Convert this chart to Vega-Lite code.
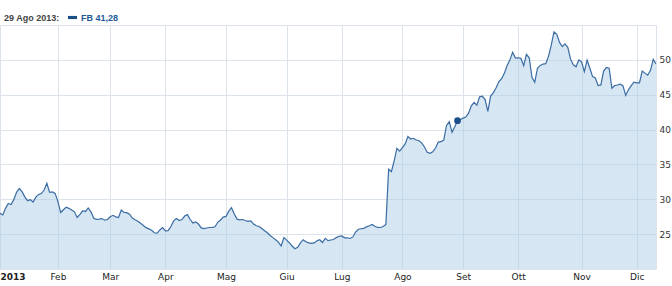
{
  "$schema": "https://vega.github.io/schema/vega-lite/v6.json",
  "width": 656,
  "height": 244,
  "autosize": {"type": "none"},
  "padding": {"left": 0, "top": 25, "right": 16, "bottom": 17},
  "background": "white",
  "config": {"view": {"stroke": "#dde3ea"}, "font": "DejaVu Sans"},
  "datasets": {
    "fb": [
      {"day":0,"close":28.0},{"day":1,"close":27.75},{"day":2,"close":28.7},{"day":3,"close":29.4},{"day":4,"close":29.25},
      {"day":5,"close":29.95},{"day":6,"close":31.0},{"day":7,"close":31.55},{"day":8,"close":31.1},{"day":9,"close":30.35},
      {"day":10,"close":29.8},{"day":11,"close":29.95},{"day":12,"close":29.6},{"day":13,"close":30.3},{"day":14,"close":30.7},
      {"day":15,"close":30.83},{"day":16,"close":31.33},{"day":17,"close":32.3},{"day":18,"close":31.0},{"day":19,"close":31.05},
      {"day":20,"close":30.85},{"day":21,"close":29.7},{"day":22,"close":28.1},{"day":23,"close":28.5},{"day":24,"close":28.85},
      {"day":25,"close":28.7},{"day":26,"close":28.47},{"day":27,"close":28.2},{"day":28,"close":27.4},{"day":29,"close":27.85},
      {"day":30,"close":28.35},{"day":31,"close":28.25},{"day":32,"close":28.75},{"day":33,"close":28.2},{"day":34,"close":27.27},
      {"day":35,"close":27.13},{"day":36,"close":27.16},{"day":37,"close":27.23},{"day":38,"close":27.0},{"day":39,"close":27.1},
      {"day":40,"close":27.5},{"day":41,"close":27.7},{"day":42,"close":27.48},{"day":43,"close":27.38},{"day":44,"close":28.45},
      {"day":45,"close":28.1},{"day":46,"close":28.08},{"day":47,"close":27.85},{"day":48,"close":27.3},{"day":49,"close":27.05},
      {"day":50,"close":26.85},{"day":51,"close":26.55},{"day":52,"close":26.25},{"day":53,"close":25.93},{"day":54,"close":25.75},
      {"day":55,"close":25.55},{"day":56,"close":25.2},{"day":57,"close":25.15},{"day":58,"close":25.6},{"day":59,"close":25.95},
      {"day":60,"close":25.47},{"day":61,"close":25.5},{"day":62,"close":26.1},{"day":63,"close":26.9},{"day":64,"close":27.25},
      {"day":65,"close":26.95},{"day":66,"close":27.1},{"day":67,"close":27.6},{"day":68,"close":27.8},{"day":69,"close":27.1},
      {"day":70,"close":26.6},{"day":71,"close":26.75},{"day":72,"close":26.45},{"day":73,"close":25.9},{"day":74,"close":25.8},
      {"day":75,"close":25.88},{"day":76,"close":25.95},{"day":77,"close":25.98},{"day":78,"close":26.05},{"day":79,"close":26.7},
      {"day":80,"close":27.03},{"day":81,"close":27.45},{"day":82,"close":27.55},{"day":83,"close":28.3},{"day":84,"close":28.8},
      {"day":85,"close":27.9},{"day":86,"close":27.15},{"day":87,"close":27.05},{"day":88,"close":27.1},{"day":89,"close":26.95},
      {"day":90,"close":26.83},{"day":91,"close":26.9},{"day":92,"close":26.45},{"day":93,"close":26.2},{"day":94,"close":26.1},
      {"day":95,"close":25.8},{"day":96,"close":25.5},{"day":97,"close":25.2},{"day":98,"close":24.8},{"day":99,"close":24.5},
      {"day":100,"close":24.2},{"day":101,"close":23.85},{"day":102,"close":23.3},{"day":103,"close":24.5},{"day":104,"close":24.15},
      {"day":105,"close":23.75},{"day":106,"close":23.3},{"day":107,"close":22.9},{"day":108,"close":23.1},{"day":109,"close":23.75},
      {"day":110,"close":24.2},{"day":111,"close":23.9},{"day":112,"close":23.75},{"day":113,"close":23.68},{"day":114,"close":23.75},
      {"day":115,"close":24.05},{"day":116,"close":24.2},{"day":117,"close":23.8},{"day":118,"close":24.4},{"day":119,"close":24.06},
      {"day":120,"close":24.16},{"day":121,"close":24.23},{"day":122,"close":24.5},{"day":123,"close":24.7},{"day":124,"close":24.75},
      {"day":125,"close":24.47},{"day":126,"close":24.48},{"day":127,"close":24.38},{"day":128,"close":24.6},{"day":129,"close":25.3},
      {"day":130,"close":25.7},{"day":131,"close":25.77},{"day":132,"close":25.83},{"day":133,"close":26.05},{"day":134,"close":26.2},
      {"day":135,"close":26.4},{"day":136,"close":26.13},{"day":137,"close":25.96},{"day":138,"close":25.95},{"day":139,"close":26.1},
      {"day":140,"close":26.4},{"day":141,"close":34.3},{"day":142,"close":33.96},{"day":143,"close":35.5},{"day":144,"close":37.3},
      {"day":145,"close":36.9},{"day":146,"close":37.4},{"day":147,"close":37.95},{"day":148,"close":39.0},{"day":149,"close":38.65},
      {"day":150,"close":38.75},{"day":151,"close":38.5},{"day":152,"close":38.4},{"day":153,"close":38.1},{"day":154,"close":37.5},
      {"day":155,"close":36.75},{"day":156,"close":36.6},{"day":157,"close":36.8},{"day":158,"close":37.35},{"day":159,"close":38.2},
      {"day":160,"close":38.26},{"day":161,"close":38.5},{"day":162,"close":40.6},{"day":163,"close":41.13},{"day":164,"close":39.6},
      {"day":165,"close":40.4},{"day":166,"close":41.28},{"day":167,"close":41.4},{"day":168,"close":41.65},{"day":169,"close":41.8},
      {"day":170,"close":42.35},{"day":171,"close":43.4},{"day":172,"close":43.9},{"day":173,"close":43.5},{"day":174,"close":44.7},
      {"day":175,"close":44.78},{"day":176,"close":44.3},{"day":177,"close":42.6},{"day":178,"close":44.8},{"day":179,"close":45.3},
      {"day":180,"close":46.0},{"day":181,"close":46.9},{"day":182,"close":47.3},{"day":183,"close":48.1},{"day":184,"close":49.2},
      {"day":185,"close":50.0},{"day":186,"close":51.08},{"day":187,"close":50.25},{"day":188,"close":50.3},{"day":189,"close":50.22},
      {"day":190,"close":49.16},{"day":191,"close":50.8},{"day":192,"close":50.3},{"day":193,"close":47.5},{"day":194,"close":46.78},
      {"day":195,"close":48.8},{"day":196,"close":49.2},{"day":197,"close":49.4},{"day":198,"close":49.45},{"day":199,"close":50.5},
      {"day":200,"close":52.1},{"day":201,"close":54.0},{"day":202,"close":53.66},{"day":203,"close":52.5},{"day":204,"close":51.9},
      {"day":205,"close":52.3},{"day":206,"close":51.8},{"day":207,"close":50.1},{"day":208,"close":49.3},{"day":209,"close":49.0},
      {"day":210,"close":50.0},{"day":211,"close":49.7},{"day":212,"close":48.3},{"day":213,"close":49.95},{"day":214,"close":48.8},
      {"day":215,"close":47.6},{"day":216,"close":47.4},{"day":217,"close":46.3},{"day":218,"close":46.4},{"day":219,"close":48.4},
      {"day":220,"close":48.9},{"day":221,"close":48.8},{"day":222,"close":45.92},{"day":223,"close":46.3},{"day":224,"close":46.39},
      {"day":225,"close":46.5},{"day":226,"close":46.3},{"day":227,"close":44.9},{"day":228,"close":45.7},{"day":229,"close":46.3},
      {"day":230,"close":46.8},{"day":231,"close":46.7},{"day":232,"close":46.7},{"day":233,"close":48.4},{"day":234,"close":48.1},
      {"day":235,"close":47.8},{"day":236,"close":48.5},{"day":237,"close":50.08},{"day":238,"close":49.4}
    ],
    "sel": [{"day": 166, "close": 41.28, "label": "FB 41,28"}],
    "note": [{"text": "© 2013 Yahoo! Inc."}]
  },
  "encoding": {
    "x": {
      "field": "day", "type": "quantitative",
      "scale": {"domain": [0, 238], "nice": false, "zero": false},
      "axis": {
        "title": null,
        "values": [0, 21, 40, 60, 82, 104, 124, 146, 168, 188, 211, 231],
        "labelExpr": "['2013','Feb','Mar','Apr','Mag','Giu','Lug','Ago','Set','Ott','Nov','Dic'][indexof([0,21,40,60,82,104,124,146,168,188,211,231], datum.value)]",
        "grid": true, "gridColor": "#dde3ea", "gridWidth": 1,
        "tickSize": 0, "domain": false, "labelPadding": 3,
        "labelFont": "DejaVu Sans", "labelFontSize": 9, "labelColor": "#222222",
        "labelFontWeight": {"condition": {"test": "datum.value == 0", "value": "bold"}, "value": "normal"},
        "labelFlush": true, "labelOverlap": false
      }
    },
    "y": {
      "field": "close", "type": "quantitative",
      "scale": {"domain": [20, 55], "nice": false, "zero": false},
      "axis": {
        "title": null, "orient": "right",
        "values": [25, 30, 35, 40, 45, 50, 55],
        "labelExpr": "datum.value == 55 ? '' : datum.label",
        "grid": true, "gridColor": "#dde3ea", "gridWidth": 1,
        "tickSize": 0, "domain": false, "labelPadding": 3,
        "labelFont": "DejaVu Sans", "labelFontSize": 9, "labelColor": "#333333"
      }
    }
  },
  "layer": [
    {
      "data": {"name": "fb"},
      "mark": {"type": "area", "fill": "#aecde5", "fillOpacity": 0.5, "clip": true}
    },
    {
      "data": {"name": "fb"},
      "mark": {"type": "line", "color": "#3a6ca3", "strokeWidth": 1.2, "clip": true}
    },
    {
      "data": {"name": "sel"},
      "mark": {"type": "point", "filled": true, "size": 45, "opacity": 1},
      "encoding": {
        "color": {
          "field": "label", "type": "nominal",
          "scale": {"range": ["#1b4f8a"]},
          "legend": {
            "orient": "none", "legendX": 4, "legendY": -12,
            "direction": "horizontal",
            "title": "29 Ago 2013:", "titleOrient": "left",
            "titleFont": "Liberation Sans", "titleFontSize": 9, "titleFontWeight": "bold",
            "titleColor": "#444444", "titlePadding": 8,
            "labelFont": "Liberation Sans", "labelFontSize": 9, "labelFontWeight": "bold",
            "labelColor": "#1f5a96", "labelOffset": 4,
            "symbolType": "M-1,-0.35L1,-0.35L1,0.35L-1,0.35Z", "symbolSize": 81,
            "symbolStrokeWidth": 0, "symbolFillColor": "#1b4f8a"
          }
        }
      }
    },
    {
      "data": {"name": "note"},
      "mark": {"type": "text", "align": "left", "baseline": "bottom", "dx": 5, "dy": -3,
               "font": "Liberation Sans", "fontSize": 8, "color": "#aab4be"},
      "encoding": {
        "x": {"datum": 0, "type": "quantitative"},
        "y": {"datum": 20, "type": "quantitative"},
        "text": {"field": "text"}
      }
    }
  ]
}
